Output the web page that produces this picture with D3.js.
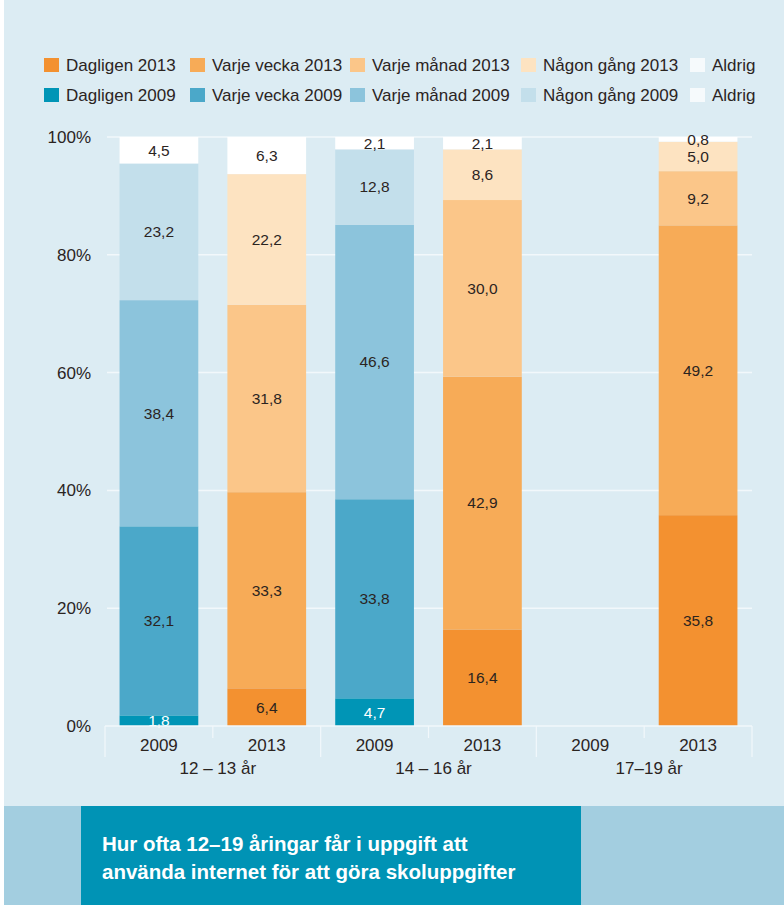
<!DOCTYPE html>
<html>
<head>
<meta charset="utf-8">
<script src="https://cdn.jsdelivr.net/npm/d3@7/dist/d3.min.js"></script>
<style>
  html, body { margin: 0; padding: 0; background: #ffffff; }
  svg { display: block; font-family: "Liberation Sans", Arial, sans-serif; }
</style>
</head>
<body>
<svg id="chart" width="784" height="905"></svg>
<script>
// ---- Data ----
const groups = ["12 – 13 år", "14 – 16 år", "17–19 år"];
const years = ["2009", "2013", "2009", "2013", "2009", "2013"];
const dagligen   = [1.8, 6.4, 4.7, 16.4, null, 35.8];
const varjeVecka = [32.1, 33.3, 33.8, 42.9, null, 49.2];
const varjeManad = [38.4, 31.8, 46.6, 30.0, null, 9.2];
const nagonGang  = [23.2, 22.2, 12.8, 8.6, null, 5.0];
const aldrig     = [4.5, 6.3, 2.1, 2.1, null, 0.8];
const yTicks = [0, 20, 40, 60, 80, 100];
const seriesKeys = ["Dagligen", "Varje vecka", "Varje månad", "Någon gång", "Aldrig"];
const legendRow2013 = ["Dagligen 2013", "Varje vecka 2013", "Varje månad 2013", "Någon gång 2013", "Aldrig"];
const legendRow2009 = ["Dagligen 2009", "Varje vecka 2009", "Varje månad 2009", "Någon gång 2009", "Aldrig"];
const title = ["Hur ofta 12–19 åringar får i uppgift att", "använda internet för att göra skoluppgifter"];

// ---- Styles ----
const colors2013 = ["#f39130", "#f7ab57", "#fbc689", "#fde3c1", "#ffffff"];
const colors2009 = ["#0095b6", "#4ba8c9", "#8cc4dc", "#c3dfeb", "#ffffff"];
const legendSwatch2013 = ["#f39130", "#f7ab57", "#fbc689", "#fde3c1", "#f6fafc"];
const legendSwatch2009 = ["#0095b6", "#4ba8c9", "#8cc4dc", "#c3dfeb", "#f6fafc"];
const textColor = "#2b241f";

const svg = d3.select("#chart");

// backgrounds
svg.append("rect").attr("x", 4).attr("y", 0).attr("width", 780).attr("height", 806).attr("fill", "#dcecf3");
svg.append("rect").attr("x", 4).attr("y", 806).attr("width", 780).attr("height", 99).attr("fill", "#a3cee0");
svg.append("rect").attr("x", 81).attr("y", 806).attr("width", 500).attr("height", 99).attr("fill", "#0093b5");

// title
svg.append("g").selectAll("text").data(title).join("text")
  .attr("x", 102).attr("y", (d, i) => 851 + i * 28)
  .attr("fill", "#ffffff").attr("font-weight", "bold").attr("font-size", 20.5)
  .text(d => d);

// ---- Scales ----
const rows = years.map((yr, i) => ({
  idx: i, year: yr,
  "Dagligen": dagligen[i], "Varje vecka": varjeVecka[i], "Varje månad": varjeManad[i],
  "Någon gång": nagonGang[i], "Aldrig": aldrig[i]
}));
const x = d3.scaleBand().domain(d3.range(years.length)).range([105, 752]).paddingInner(0.27).paddingOuter(0.135);
const y = d3.scaleLinear().domain([0, 100]).range([726, 137]);
const step = x.step();
const boundary = i => x.range()[0] + i * step;
const gridColor = "#f2f8fb";

// gridlines
svg.append("g").selectAll("line").data(yTicks.filter(t => t > 0)).join("line")
  .attr("x1", boundary(0) + 2).attr("x2", boundary(6))
  .attr("y1", d => y(d)).attr("y2", d => y(d))
  .attr("stroke", gridColor).attr("stroke-width", 1.5);

// y tick labels
svg.append("g").selectAll("text").data(yTicks).join("text")
  .attr("x", 91).attr("y", d => y(d)).attr("dy", "0.35em")
  .attr("text-anchor", "end").attr("font-size", 17).attr("fill", textColor)
  .text(d => d + "%");

// bars
const stack = d3.stack().keys(seriesKeys).value((d, k) => d[k] == null ? 0 : d[k]);
const stacked = stack(rows);
const barG = svg.append("g");
stacked.forEach((layer, si) => {
  barG.selectAll(null).data(layer.filter(d => d.data[seriesKeys[si]] != null)).join("rect")
    .attr("x", d => x(d.data.idx)).attr("width", x.bandwidth())
    .attr("y", d => y(d[1])).attr("height", d => y(d[0]) - y(d[1]))
    .attr("fill", d => (d.data.year === "2013" ? colors2013 : colors2009)[si]);
});
// value labels
const fmt = v => v.toFixed(1).replace(".", ",");
stacked.forEach((layer, si) => {
  barG.selectAll(null).data(layer.filter(d => d.data[seriesKeys[si]] != null)).join("text")
    .attr("x", d => x(d.data.idx) + x.bandwidth() / 2)
    .attr("y", d => (y(d[0]) + y(d[1])) / 2).attr("dy", "0.35em")
    .attr("text-anchor", "middle").attr("font-size", 15.5)
    .attr("fill", d => (si === 0 && d.data.year === "2009") ? "#ffffff" : textColor)
    .text(d => fmt(d.data[seriesKeys[si]]));
});

// x axis line and ticks
svg.append("line").attr("x1", boundary(0)).attr("x2", boundary(6))
  .attr("y1", y(0)).attr("y2", y(0)).attr("stroke", gridColor).attr("stroke-width", 1.5);
svg.append("g").selectAll("line").data(d3.range(7)).join("line")
  .attr("x1", d => boundary(d)).attr("x2", d => boundary(d))
  .attr("y1", y(0)).attr("y2", d => d % 2 === 0 ? 757 : 738)
  .attr("stroke", gridColor).attr("stroke-width", 1.2);

// year labels
svg.append("g").selectAll("text").data(years).join("text")
  .attr("x", (d, i) => x(i) + x.bandwidth() / 2).attr("y", 745).attr("dy", "0.35em")
  .attr("text-anchor", "middle").attr("font-size", 17).attr("fill", textColor)
  .text(d => d);
// group labels
svg.append("g").selectAll("text").data(groups).join("text")
  .attr("x", (d, i) => boundary(i * 2 + 1) + 5).attr("y", 768).attr("dy", "0.35em")
  .attr("text-anchor", "middle").attr("font-size", 17).attr("fill", textColor)
  .text(d => d);

// legend
const legendCols = [44, 190, 350, 521, 690];
const legendRows = [
  { y: 65, labels: legendRow2013, swatch: legendSwatch2013 },
  { y: 95, labels: legendRow2009, swatch: legendSwatch2009 }
];
legendRows.forEach(row => {
  const g = svg.append("g");
  const items = g.selectAll("g").data(row.labels).join("g")
    .attr("transform", (d, i) => `translate(${legendCols[i]},${row.y})`);
  items.append("rect").attr("x", 0).attr("y", -7).attr("width", 15).attr("height", 14)
    .attr("fill", (d, i) => row.swatch[i]);
  items.append("text").attr("x", 22).attr("y", 0).attr("dy", "0.35em")
    .attr("font-size", 17).attr("fill", textColor).text(d => d);
});
</script>
</body>
</html>
